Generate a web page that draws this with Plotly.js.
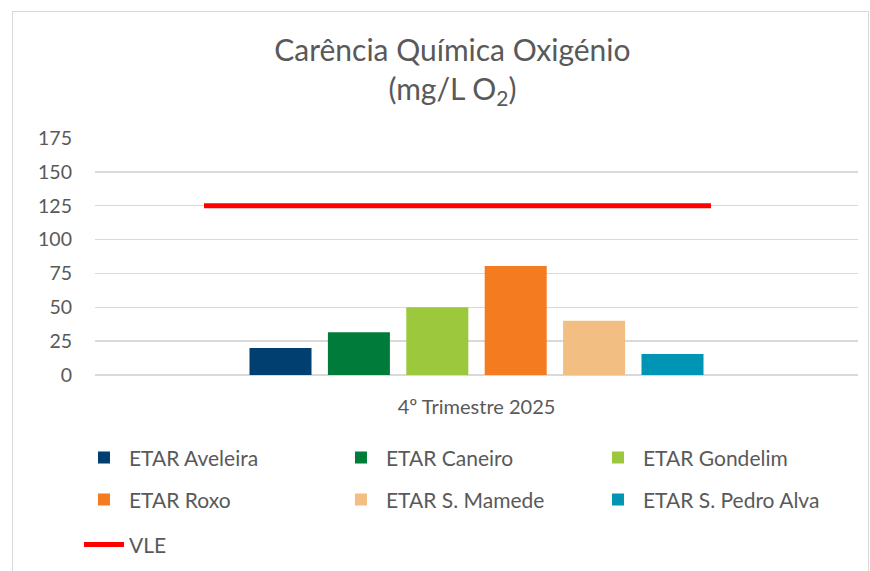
<!DOCTYPE html>
<html>
<head>
<meta charset="utf-8">
<script src="https://cdn.plot.ly/plotly-3.0.1.min.js"></script>
<style>
  html, body { margin: 0; padding: 0; background: #ffffff; }
  #wrap { position: relative; width: 870px; height: 571px; }
  #chart { width: 870px; height: 571px; }
  #frame { position: absolute; left: 12px; top: 11px; width: 855px; height: 580px;
           border-left: 1px solid #d9d9d9; border-top: 1px solid #d9d9d9; border-right: 1px solid #d9d9d9;
           pointer-events: none; }
</style>
</head>
<body>
<div id="wrap">
  <div id="chart"></div>
  <div id="frame"></div>
</div>
<script>
// ---- data ----
const categories = ["4º Trimestre 2025"];
const stations = ["ETAR Aveleira", "ETAR Caneiro", "ETAR Gondelim", "ETAR Roxo", "ETAR S. Mamede", "ETAR S. Pedro Alva"];
const values = [20, 31.5, 50, 80.5, 40, 15.5];
const vleName = "VLE";
const vleValue = 125;
const yTicks = [0, 25, 50, 75, 100, 125, 150, 175];

// ---- styles ----
const colors = ["#003f6f", "#007b3a", "#9bc83c", "#f47b20", "#f2be81", "#0094b5"];
const legendOf = ["legend", "legend", "legend", "legend2", "legend2", "legend2"];
const fontFam = "Lato, 'Open Sans', sans-serif";
const txt = "#595959";

const traces = stations.map((name, i) => ({
  type: "bar",
  name: name,
  x: categories,
  y: [values[i]],
  marker: { color: colors[i], line: { width: 0 } },
  legend: legendOf[i],
  hoverinfo: "name+y"
}));

// VLE line spanning the group, drawn on a hidden numeric overlay axis
traces.push({
  type: "scatter",
  mode: "lines",
  name: vleName,
  x: [0, 1],
  y: [vleValue, vleValue],
  xaxis: "x2",
  line: { color: "#ff0000", width: 5 },
  legend: "legend3"
});

const legendBase = {
  orientation: "h",
  xanchor: "left",
  yanchor: "middle",
  font: { family: fontFam, size: 21, color: txt },
  entrywidth: 202,
  entrywidthmode: "pixels",
  itemwidth: 40,
  bgcolor: "rgba(0,0,0,0)"
};

const lx = -0.021;

const layout = {
  width: 870,
  height: 571,
  margin: { l: 95, r: 12, t: 138, b: 196, autoexpand: false },
  paper_bgcolor: "#ffffff",
  plot_bgcolor: "#ffffff",
  font: { family: fontFam, color: txt },
  title: {
    text: "Carência Química Oxigénio<br>(mg/L O<sub>2</sub>)",
    font: { family: fontFam, size: 30, color: txt },
    x: 0.52,
    xanchor: "center",
    y: 0.893,
    yanchor: "top"
  },
  barmode: "group",
  bargap: 0.3835,
  bargroupgap: 0.209,
  xaxis: {
    type: "category",
    showgrid: false,
    showline: false,
    zeroline: false,
    ticks: "",
    tickfont: { family: fontFam, size: 20, color: txt },
    ticklabelstandoff: 18,
    automargin: false
  },
  xaxis2: {
    overlaying: "x",
    range: [-0.215, 1.29],
    visible: false,
    fixedrange: true
  },
  yaxis: {
    range: [0, 175],
    tickvals: yTicks,
    ticktext: yTicks.map(String),
    showgrid: true,
    gridcolor: "#d9d9d9",
    gridwidth: 1.5,
    zeroline: true,
    zerolinecolor: "#d9d9d9",
    zerolinewidth: 1.5,
    showline: false,
    ticks: "",
    tickfont: { family: fontFam, size: 19.5, color: txt },
    ticklabelstandoff: 22,
    automargin: false
  },
  legend: Object.assign({}, legendBase, { x: lx, y: -0.350 }),
  legend2: Object.assign({}, legendBase, { x: lx, y: -0.527 }),
  legend3: Object.assign({}, legendBase, { x: lx, y: -0.717 }),
  showlegend: true
};

Plotly.newPlot("chart", traces, layout, { displayModeBar: false, staticPlot: true });
</script>
</body>
</html>
